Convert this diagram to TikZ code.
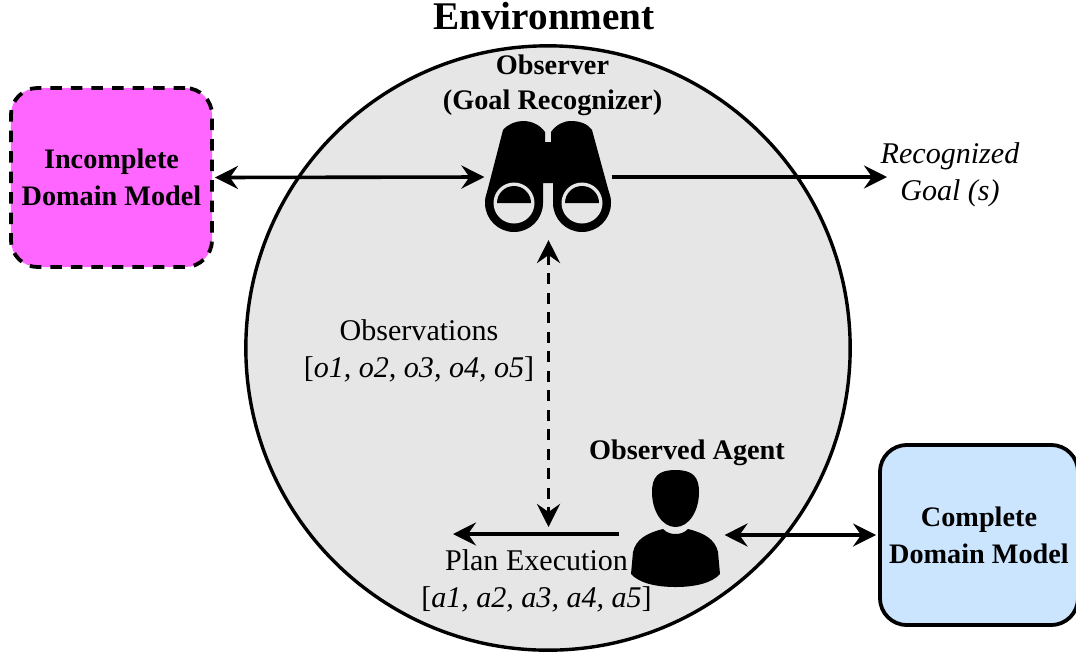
\documentclass[tikz,border=0pt]{standalone}
\usepackage{fontspec}
\setmainfont{Liberation Serif}
\usetikzlibrary{arrows.meta}
\definecolor{envgray}{HTML}{E6E6E6}
\definecolor{incmagenta}{HTML}{FF66FF}
\definecolor{compblue}{HTML}{CCE5FF}
\tikzset{
	domainbox/.style={draw,rounded corners=.27cm,line width=.038cm,align=center,inner sep=0pt,
		font=\fontsize{8.03}{10.5}\selectfont\bfseries},
	boldlabel/.style={align=center,inner sep=0pt,font=\fontsize{8.05}{10}\selectfont\bfseries},
	plainlabel/.style={align=center,inner sep=0pt,font=\fontsize{8.55}{10.5}\selectfont},
	link/.style={line width=.036cm,-{Stealth[length=.23cm,width=.23cm,inset=.08cm]}},
	biglink/.style={line width=.036cm,{Stealth[length=.23cm,width=.23cm,inset=.08cm]}-{Stealth[length=.23cm,width=.23cm,inset=.08cm]}},
	icon/.style={minimum width=#1,inner sep=0pt,outer sep=0pt}
}
\begin{document}
\begin{tikzpicture}[x=.01cm,y=-.01cm]
	\useasboundingbox (0,0) rectangle (1076,651);
	
	\node[circle,draw,fill=envgray,line width=.034cm,minimum size=6.04cm,inner sep=0pt] (env) at (548,348) {};
	\node[inner sep=0pt,font=\fontsize{11.15}{13}\selectfont\bfseries] (envtitle) at (544,16) {Environment};
	
	\node[domainbox,fill=incmagenta,dashed,dash pattern=on .115cm off .09cm,minimum width=2.01cm,minimum height=1.79cm] (incomplete) at (111.5,177.5) {Incomplete\\Domain Model};
	\node[domainbox,fill=compblue,minimum width=1.98cm,minimum height=1.8cm] (complete) at (979,535) {Complete\\Domain Model};
	
	\node[boldlabel] (observerlabel) at (552.5,85.5) {Observer\\(Goal Recognizer)};
	\node[boldlabel] (agentlabel) at (687,453) {Observed Agent};
	\node[plainlabel] (goal) at (950,174.5) {\textit{Recognized}\\\textit{Goal (s)}};
	\node[plainlabel] (obs) at (419,351) {Observations\\{[}\textit{o1, o2, o3, o4, o5}{]}};
	\node[plainlabel] (plan) at (536.5,581) {Plan Execution\\{[}\textit{a1, a2, a3, a4, a5}{]}};
	
	% binoculars
	\node[icon=1.26cm,minimum height=1.12cm] (observer) at (548.5,177) {};
	\fill (545,132)--(545,142)--(551,142)--(551,132)
		.. controls (556,125) and (563,121) .. (571,121)
		.. controls (580,121) and (588,124) .. (592,130)
		--(610,196)--(611,203)--(553,203)--(553,183)--(543,183)--(543,203)--(485,203)--(486,196)--(503,130)
		.. controls (508,124) and (516,121) .. (523,121)
		.. controls (532,121) and (540,125) .. (545,132);
	\fill (514,203) circle (29) (582,203) circle (29);
	\fill[envgray] (514,203) circle (20.5) (582,203) circle (20.5);
	\fill (497,203) arc (180:0:17 and -17)--cycle;
	\fill (565,203) arc (180:0:17 and -17)--cycle;
	
	% person
	\node[icon=.9cm,minimum height=1.17cm] (agent) at (675.5,528.5) {};
	\fill (675.5,470) .. controls (693,470) and (699,477) .. (699,492)
		.. controls (699,511) and (689,527) .. (675.5,527)
		.. controls (662,527) and (652,511) .. (652,492)
		.. controls (652,477) and (658,470) .. (675.5,470);
	\fill (663,529) .. controls (667,533) and (671,534) .. (675.5,534)
		.. controls (680,534) and (684,533) .. (688,529)
		.. controls (704,533) and (715,539) .. (718,552)
		--(720,574)
		.. controls (712,583) and (695,587) .. (675.5,587)
		.. controls (656,587) and (639,583) .. (631,574)
		--(633,552)
		.. controls (636,539) and (647,533) .. (663,529);
	
	\coordinate (planstart) at (619,534);
	\coordinate (planmid) at (548.5,534);
	\coordinate (planend) at (453,534);
	\coordinate (goalin) at (887,177);
	
	\draw[biglink,shorten <=.01cm,shorten >=.01cm] (incomplete.east)--(observer.west);
	\draw[link] (observer.east)--(goalin);
	\draw[biglink,dashed,dash pattern=on .11cm off .085cm,shorten <=.07cm,shorten >=.07cm] (observer.south)--(planmid);
	\draw[link] (planstart)--(planend);
	\draw[biglink,shorten <=.04cm,shorten >=.02cm] (agent.east |- complete.west)--(complete.west);
\end{tikzpicture}
\end{document}
